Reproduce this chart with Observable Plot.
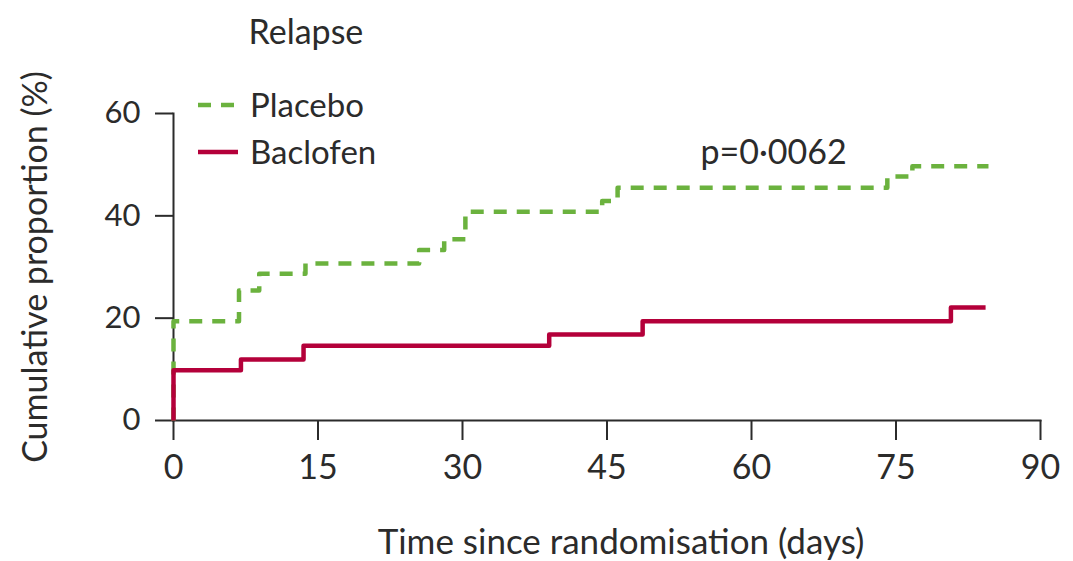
<!DOCTYPE html>
<html>
<head>
<meta charset="utf-8">
<script src="https://cdn.jsdelivr.net/npm/d3@7"></script>
<script src="https://cdn.jsdelivr.net/npm/@observablehq/plot@0.6"></script>
<style>
  html, body { margin: 0; padding: 0; background: #fff; }
  #wrap { position: relative; width: 1073px; height: 561px; font-family: Lato, "Noto Sans", sans-serif; color: #2b2b2b; }
  #wrap svg { font-family: Lato, "Noto Sans", sans-serif; }
  .lg { position: absolute; font-size: 33px; line-height: 33px; white-space: nowrap; }
  .sw { position: absolute; }
</style>
</head>
<body>
<div id="wrap"></div>
<script>
// ---- data ----
const title = "Relapse";
const seriesNames = ["Placebo", "Baclofen"];
const seriesColors = ["#6bb23e", "#b4003a"];
const placeboDays = [0, 0, 6.8, 8.9, 13.7, 25.5, 28.1, 30.3, 44.5, 46.1, 74.1, 76.7, 84.6];
const placeboPct  = [0, 19.4, 25.4, 28.7, 30.7, 33.3, 35.4, 40.8, 42.9, 45.5, 47.7, 49.7, 49.7];
const baclofenDays = [0, 0, 7.0, 13.5, 39.0, 48.7, 80.7, 84.3];
const baclofenPct  = [0, 9.8, 11.9, 14.6, 16.8, 19.4, 22.1, 22.1];
const xTicks = [0, 15, 30, 45, 60, 75, 90];
const yTicks = [0, 20, 40, 60];
const xLabel = "Time since randomisation (days)";
const yLabel = "Cumulative proportion (%)";
const pText = "p=0·0062";

const placebo = placeboDays.map((d, i) => ({day: d, pct: placeboPct[i]}));
const baclofen = baclofenDays.map((d, i) => ({day: d, pct: baclofenPct[i]}));

const ink = "#2b2b2b";

const chart = Plot.plot({
  width: 1073,
  height: 561,
  marginLeft: 173,
  marginRight: 33,
  marginTop: 113,
  marginBottom: 141,
  style: {background: "#fff", fontFamily: "Lato, 'Noto Sans', sans-serif"},
  x: {domain: [0, 90]},
  y: {domain: [0, 60]},
  marks: [
    Plot.frame({anchor: "bottom", stroke: ink, strokeWidth: 2}),
    Plot.frame({anchor: "left", stroke: ink, strokeWidth: 2}),
    Plot.axisX({ticks: xTicks, tickSize: 20, tickPadding: 14, fontSize: 34, label: null, color: ink, strokeWidth: 2, tickFormat: d => String(d)}),
    Plot.axisY({ticks: yTicks, tickSize: 18, tickPadding: 15, fontSize: 31, label: null, color: ink, strokeWidth: 2, tickFormat: d => String(d)}),
    Plot.line(placebo, {x: "day", y: "pct", curve: "step-after", stroke: seriesColors[0], strokeWidth: 4.5, strokeDasharray: "13,10", strokeLinecap: "butt"}),
    Plot.line(baclofen, {x: "day", y: "pct", curve: "step-after", stroke: seriesColors[1], strokeWidth: 4.5, strokeLinecap: "butt"}),
    Plot.text([xLabel], {frameAnchor: "bottom", dy: 133, dx: 14, fontSize: 35, fill: ink}),
    Plot.text([yLabel], {frameAnchor: "left", rotate: -90, textAnchor: "middle", dx: -137, fontSize: 34, fill: ink}),
    Plot.text([pText], {frameAnchor: "top-right", textAnchor: "start", dx: -340, dy: 26, fontSize: 34, fill: ink}),
    Plot.text([title], {frameAnchor: "top-left", textAnchor: "start", dx: 75, dy: -94, fontSize: 34, fill: ink})
  ]
});

const wrap = document.getElementById("wrap");
wrap.appendChild(chart);

// legend overlay
const legendRows = [
  {name: seriesNames[0], color: seriesColors[0], dash: "13,10", swY: 105, textTop: 88},
  {name: seriesNames[1], color: seriesColors[1], dash: null, swY: 152, textTop: 135}
];
legendRows.forEach(r => {
  const sw = document.createElementNS("http://www.w3.org/2000/svg", "svg");
  sw.setAttribute("width", 40); sw.setAttribute("height", 10);
  sw.setAttribute("class", "sw");
  sw.style.left = "198px"; sw.style.top = (r.swY - 5) + "px";
  const ln = document.createElementNS("http://www.w3.org/2000/svg", "line");
  ln.setAttribute("x1", 0); ln.setAttribute("x2", 40); ln.setAttribute("y1", 5); ln.setAttribute("y2", 5);
  ln.setAttribute("stroke", r.color); ln.setAttribute("stroke-width", 4.5);
  if (r.dash) ln.setAttribute("stroke-dasharray", r.dash);
  sw.appendChild(ln);
  wrap.appendChild(sw);
  const t = document.createElement("div");
  t.className = "lg"; t.textContent = r.name;
  t.style.left = "250px"; t.style.top = r.textTop + "px";
  wrap.appendChild(t);
});
</script>
</body>
</html>
